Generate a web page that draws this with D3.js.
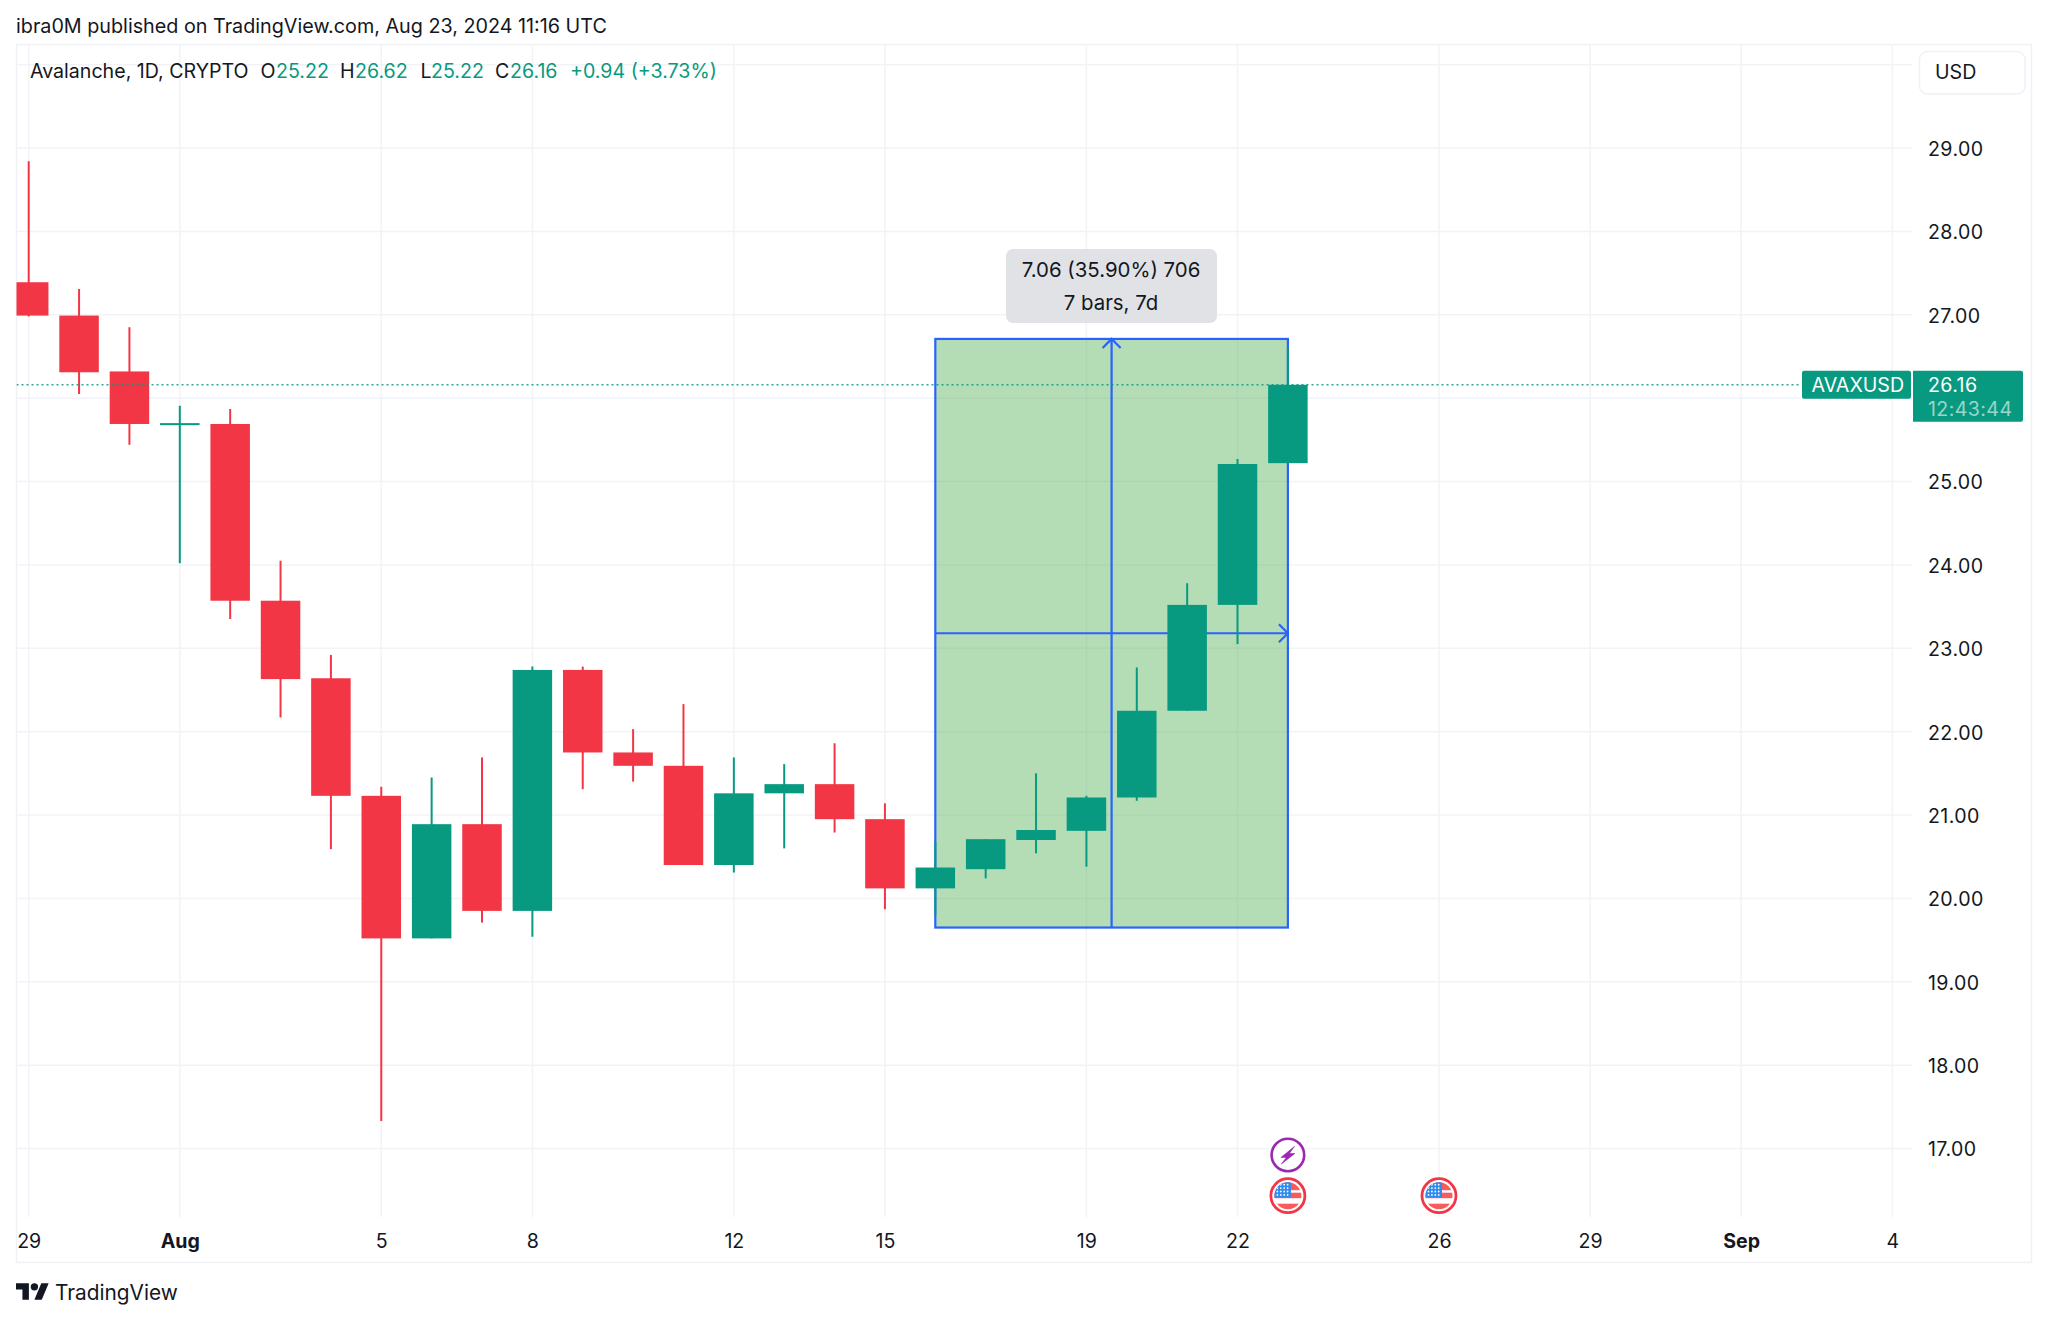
<!DOCTYPE html>
<html><head><meta charset="utf-8">
<script src="https://cdn.jsdelivr.net/npm/d3@7"></script>
<style>
html,body{margin:0;padding:0;background:#fff}
svg{display:block}
text{font-family:Inter,"Noto Sans",sans-serif;fill:#131722}
</style></head><body>
<svg id="c" width="2048" height="1321"></svg>
<script>
const dates=["2024-07-29","2024-07-30","2024-07-31","2024-08-01","2024-08-02","2024-08-03","2024-08-04","2024-08-05","2024-08-06","2024-08-07","2024-08-08","2024-08-09","2024-08-10","2024-08-11","2024-08-12","2024-08-13","2024-08-14","2024-08-15","2024-08-16","2024-08-17","2024-08-18","2024-08-19","2024-08-20","2024-08-21","2024-08-22","2024-08-23"];
const opens =[27.39,26.99,26.32,25.69,25.69,23.57,22.64,21.23,19.52,20.89,19.85,22.74,21.75,21.59,20.40,21.26,21.37,20.95,20.12,20.35,20.70,20.81,21.21,22.25,23.52,25.22];
const highs =[28.84,27.31,26.85,25.91,25.87,24.05,22.92,21.34,21.45,21.69,22.78,22.78,22.03,22.33,21.69,21.61,21.86,21.14,20.68,20.71,21.50,21.23,22.77,23.78,25.27,26.62];
const lows  =[26.98,26.05,25.44,24.02,23.35,22.17,20.59,17.33,19.52,19.71,19.54,21.31,21.40,20.40,20.31,20.60,20.79,19.87,19.80,20.24,20.54,20.38,21.17,22.25,23.05,25.22];
const closes=[26.99,26.31,25.69,25.70,23.57,22.63,21.23,19.52,20.89,19.85,22.74,21.75,21.59,20.40,21.26,21.37,20.95,20.12,20.37,20.71,20.82,21.21,22.25,23.52,25.21,26.16];
const priceTicks=[30,29,28,27,26,25,24,23,22,21,20,19,18,17];
const priceLabels=[29,28,27,25,24,23,22,21,20,19,18,17];
const timeTicks=["2024-07-29","2024-08-01","2024-08-05","2024-08-08","2024-08-12","2024-08-15","2024-08-19","2024-08-22","2024-08-26","2024-08-29","2024-09-01","2024-09-04"];
const timeLabels=["29","Aug","5","8","12","15","19","22","26","29","Sep","4"];
const boldLabels=["Aug","Sep"];
const rangeStart="2024-08-16", rangeEnd="2024-08-23", rangeLow=19.65, rangeHigh=26.71;
const lastPrice=26.16;
const eventFlags=["2024-08-23","2024-08-26"], eventBolt=["2024-08-23"];
const legendParts=[["Avalanche, 1D, CRYPTO",30,0],["O",260.5,0],["25.22",276,1],["H",340,0],["26.62",355,1],["L",420.5,0],["25.22",431,1],["C",495,0],["26.16",510,1],["+0.94 (+3.73%)",570,1]];

const UP="#089981",DOWN="#F23645",BLUE="#2962FF",GRID="#F2F3F6",FRAME="#EFF1F7";
const svg=d3.select("#c");
const d=s=>new Date(s+"T00:00:00Z");
const x=d3.scaleUtc().domain([d("2024-07-29"),d("2024-09-04")]).range([28.7,1892.3]);
const y=d3.scaleLinear().domain([29,17]).range([148,1148.5]);
const L=16.5,T=44.5,R=2031.5,B=1262.5,PB=1217;
const defs=svg.append("defs");
defs.append("clipPath").attr("id","pane").append("rect").attr("x",L).attr("y",T).attr("width",R-L).attr("height",PB-T);

svg.append("text").attr("x",16).attr("y",33).attr("font-size",19.75).text("ibra0M published on TradingView.com, Aug 23, 2024 11:16 UTC");
svg.append("rect").attr("x",L).attr("y",T).attr("width",R-L).attr("height",B-T).attr("fill","none").attr("stroke",FRAME).attr("stroke-width",1.5);

// grid
const grid=svg.append("g");
grid.selectAll(".h").data(priceTicks).join("line").attr("x1",L).attr("x2",1912).attr("y1",p=>y(p)).attr("y2",p=>y(p)).attr("stroke",GRID).attr("stroke-width",1.5);
grid.selectAll(".v").data(timeTicks).join("line").attr("x1",t=>x(d(t))).attr("x2",t=>x(d(t))).attr("y1",T).attr("y2",PB).attr("stroke",GRID).attr("stroke-width",1.5);

const pane=svg.append("g").attr("clip-path","url(#pane)");
// price range tool: fill and outlines sit under the candles
const rx0=x(d(rangeStart)),rx1=x(d(rangeEnd)),ry0=y(rangeHigh),ry1=y(rangeLow),mx=(rx0+rx1)/2,my=(ry0+ry1)/2;
pane.append("rect").attr("x",rx0).attr("y",ry0).attr("width",rx1-rx0).attr("height",ry1-ry0).attr("fill","#4CAF50").attr("fill-opacity",.42);
const blue=pane.append("g").attr("fill","none").attr("stroke",BLUE).attr("stroke-width",2.2);
blue.append("rect").attr("x",rx0).attr("y",ry0).attr("width",rx1-rx0).attr("height",ry1-ry0);
blue.append("line").attr("x1",mx).attr("x2",mx).attr("y1",ry0).attr("y2",ry1);
blue.append("line").attr("x1",rx0).attr("x2",rx1).attr("y1",my).attr("y2",my);
blue.append("path").attr("d",d3.line()([[mx-9,ry0+9],[mx,ry0],[mx+9,ry0+9]]));
blue.append("path").attr("d",d3.line()([[rx1-9,my-9],[rx1,my],[rx1-9,my+9]]));
// candles
const rows=dates.map((t,i)=>({t:d(t),o:opens[i],h:highs[i],l:lows[i],c:closes[i],col:closes[i]>=opens[i]?UP:DOWN}));
const BW=39.5;
const g=pane.append("g");
g.selectAll(".w").data(rows).join("line").attr("x1",r=>x(r.t)).attr("x2",r=>x(r.t)).attr("y1",r=>y(r.h)).attr("y2",r=>y(r.l)).attr("stroke",r=>r.col).attr("stroke-width",2);
g.selectAll(".b").data(rows).join("rect").attr("x",r=>x(r.t)-BW/2).attr("width",BW)
 .attr("y",r=>y(Math.max(r.o,r.c))).attr("height",r=>Math.max(2,Math.abs(y(r.o)-y(r.c)))).attr("fill",r=>r.col);
// last price line
pane.append("line").attr("x1",L).attr("x2",1800).attr("y1",y(lastPrice)).attr("y2",y(lastPrice)).attr("stroke",UP).attr("stroke-width",1.6).attr("stroke-dasharray","2 3").attr("opacity",.85);

// tooltip
svg.append("rect").attr("x",1006).attr("y",249).attr("width",211).attr("height",74).attr("rx",7).attr("fill","#E0E2E6");
svg.append("text").attr("x",1111).attr("y",277).attr("text-anchor","middle").attr("font-size",20.4).text("7.06 (35.90%) 706");
svg.append("text").attr("x",1111).attr("y",310).attr("text-anchor","middle").attr("font-size",20.4).text("7 bars, 7d");

// legend
svg.append("g").selectAll("text").data(legendParts).join("text").attr("x",p=>p[1]).attr("y",78).attr("font-size",19.6).text(p=>p[0]).style("fill",p=>p[2]?UP:"#131722");

// axes
const yAxis=d3.axisRight(y).tickValues(priceLabels).tickFormat(d3.format(".2f")).tickSize(0).tickPadding(0);
const ya=svg.append("g").attr("transform","translate(1928,1.2)").call(yAxis);
ya.select(".domain").remove();
ya.selectAll("text").attr("font-size",19.6).attr("font-family","Inter").attr("x",0).style("letter-spacing","0.4px");
const xAxis=d3.axisBottom(x).tickValues(timeTicks.map(d)).tickFormat((t,i)=>timeLabels[i]).tickSize(0).tickPadding(0);
const xa=svg.append("g").attr("transform","translate(0,1234)").call(xAxis);
xa.select(".domain").remove();
xa.selectAll("text").attr("font-size",19.6).attr("font-family","Inter").attr("font-weight",(t,i)=>boldLabels.includes(timeLabels[i])?700:400);

// USD button
svg.append("rect").attr("x",1919.5).attr("y",51.5).attr("width",105.5).attr("height",42.5).attr("rx",8).attr("fill","#fff").attr("stroke",FRAME).attr("stroke-width",1.5);
svg.append("text").attr("x",1935).attr("y",79).attr("font-size",19.6).text("USD");

// price tags
const py=y(lastPrice);
svg.append("path").attr("d",`M1913 ${py-14}H2021a2 2 0 0 1 2 2V${py+35}a2 2 0 0 1-2 2H1913Z`).attr("fill",UP);
svg.append("rect").attr("x",1802).attr("y",py-14).attr("width",109).attr("height",28).attr("rx",2).attr("fill",UP);
svg.append("text").attr("x",1811.5).attr("y",py+7).attr("font-size",19.6).style("fill","#fff").text("AVAXUSD");
svg.append("text").attr("x",1928).attr("y",py+7).attr("font-size",19.6).style("fill","#fff").style("letter-spacing","0.4px").text(lastPrice.toFixed(2));
svg.append("text").attr("x",1928).attr("y",py+31).attr("font-size",19.6).style("fill","#fff").style("fill-opacity",.6).style("letter-spacing","0.4px").text("12:43:44");

// event icons
const flagY=1195.7,boltY=1155;
eventBolt.forEach(t=>{
  const e=svg.append("g").attr("transform",`translate(${x(d(t))},${boltY})`);
  e.append("circle").attr("r",16.3).attr("fill","#fff").attr("stroke","#9C27B0").attr("stroke-width",2.6);
  e.append("path").attr("d","M6.5 -8.5 L-7 2.5 L-1.5 2.5 L-6.5 9 L7 -1.5 L1.5 -1.5 L6.5 -8.5Z").attr("fill","#9C27B0").attr("stroke","#9C27B0").attr("stroke-width",.6);
});
eventFlags.forEach((t,k)=>{
  const e=svg.append("g").attr("transform",`translate(${x(d(t))},${flagY})`);
  e.append("circle").attr("r",17).attr("fill","#fff").attr("stroke","#F23645").attr("stroke-width",2.8);
  const id="fc"+k;
  e.append("clipPath").attr("id",id).append("circle").attr("r",13.5);
  const f=e.append("g").attr("clip-path",`url(#${id})`);
  [[-14,-8.5],[-3,5.5],[8,6]].forEach(([yy,h])=>f.append("rect").attr("x",-14).attr("y",yy).attr("width",28).attr("height",Math.abs(h)).attr("fill","#F85B5B"));
  f.append("rect").attr("x",-14).attr("y",-14).attr("width",17).attr("height",16).attr("fill","#2F8CEF");
  for(let a=-10.5;a<=2;a+=3.4)for(let b=-11;b<=1;b+=3.4)f.append("circle").attr("cx",a).attr("cy",b).attr("r",.9).attr("fill","#fff");
});

// logo
const lg=svg.append("g").attr("transform","translate(16,1279.5) scale(.92)").attr("fill","#131722");
lg.append("path").attr("d","M14 22H7V11H0V4h14v18zM28 22h-8l7.5-18h8L28 22z");
lg.append("circle").attr("cx",20).attr("cy",8).attr("r",4);
svg.append("text").attr("x",55).attr("y",1300).attr("font-size",20.8).attr("font-weight",400).text("TradingView");
</script></body></html>
